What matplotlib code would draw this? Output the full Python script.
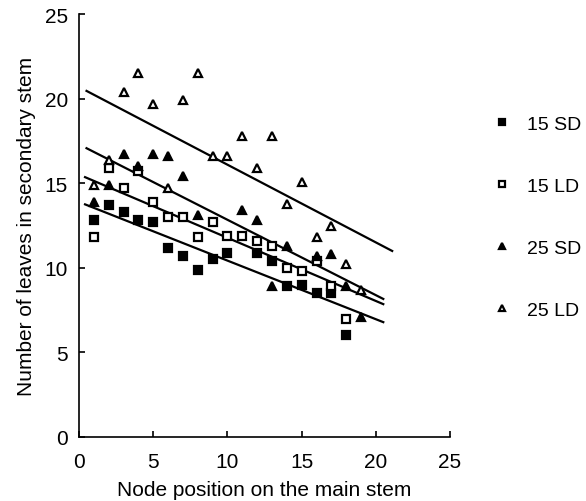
import numpy as np
import matplotlib
matplotlib.use('Agg')
import matplotlib.pyplot as plt

plt.rcParams['font.family'] = ['Liberation Sans', 'DejaVu Sans']

# node position on the main stem
x_15sd = [1, 2, 3, 4, 5, 6, 7, 8, 9, 10, 12, 13, 14, 15, 16, 17, 18]
y_15sd = [12.8, 13.7, 13.3, 12.8, 12.7, 11.2, 10.7, 9.9, 10.5, 10.9, 10.9, 10.4, 8.9, 9.0, 8.5, 8.5, 6.0]

x_15ld = [1, 2, 3, 4, 5, 6, 7, 8, 9, 10, 11, 12, 13, 14, 15, 16, 17, 18]
y_15ld = [11.8, 15.9, 14.7, 15.7, 13.9, 13.0, 13.0, 11.8, 12.7, 11.9, 11.9, 11.6, 11.3, 10.0, 9.8, 10.4, 8.9, 7.0]

x_25sd = [1, 2, 3, 4, 5, 6, 7, 8, 11, 12, 13, 14, 16, 17, 18, 19]
y_25sd = [13.9, 14.9, 16.7, 16.0, 16.7, 16.6, 15.4, 13.1, 13.4, 12.8, 8.9, 11.3, 10.7, 10.8, 8.9, 7.1]

x_25ld = [1, 2, 3, 4, 5, 6, 7, 8, 9, 10, 11, 12, 13, 14, 15, 16, 17, 18, 19]
y_25ld = [14.9, 16.4, 20.4, 21.5, 19.7, 14.7, 19.9, 21.5, 16.6, 16.6, 17.8, 15.9, 17.8, 13.8, 15.1, 11.8, 12.5, 10.2, 8.7]

labels = ['15 SD', '15 LD', '25 SD', '25 LD']
# x range covered by each regression line
fit_start = [0.4, 0.4, 0.5, 0.5]
fit_end = [20.5, 20.5, 20.5, 21.1]

xticks = [0, 5, 10, 15, 20, 25]
yticks = [0, 5, 10, 15, 20, 25]

fig = plt.figure(figsize=(5.86, 5.02), dpi=100)
ax = fig.add_axes([0.135, 0.1275, 0.633, 0.8425])

series = [(x_15sd, y_15sd), (x_15ld, y_15ld), (x_25sd, y_25sd), (x_25ld, y_25ld)]
styles = [dict(marker='s', mfc='black'), dict(marker='s', mfc='white'),
          dict(marker='^', mfc='black'), dict(marker='^', mfc='white')]

handles = []
for (xs, ys), st, lab, x0, x1 in zip(series, styles, labels, fit_start, fit_end):
    h, = ax.plot(xs, ys, ls='none', mec='black', mew=1.6, ms=6, label=lab, zorder=3, **st)
    handles.append(h)
    k, b = np.polyfit(xs, ys, 1)
    xx = np.array([x0, x1])
    ax.plot(xx, k * xx + b, color='black', lw=1.6, zorder=2)

ax.set_xlim(0, 25)
ax.set_ylim(0, 25)
ax.set_xticks(xticks)
ax.set_yticks(yticks)
ax.spines['top'].set_visible(False)
ax.spines['right'].set_visible(False)
ax.spines['left'].set_linewidth(1.2)
ax.spines['bottom'].set_linewidth(1.2)
ax.tick_params(direction='in', length=4, width=1.2, labelsize=15)
ax.tick_params(axis='x', pad=11)
ax.tick_params(axis='y', pad=8)
ax.set_xlabel('Node position on the main stem', fontsize=15, labelpad=6)
ax.set_ylabel('Number of leaves in secondary stem', fontsize=15, labelpad=6)

fig.legend(handles=handles, loc='upper left', bbox_to_anchor=(0.813, 0.803),
           frameon=False, fontsize=14, handlelength=0.8, handletextpad=0.9,
           labelspacing=2.28, markerscale=0.75, borderpad=0.4)

fig.savefig('out.png', dpi=100)
